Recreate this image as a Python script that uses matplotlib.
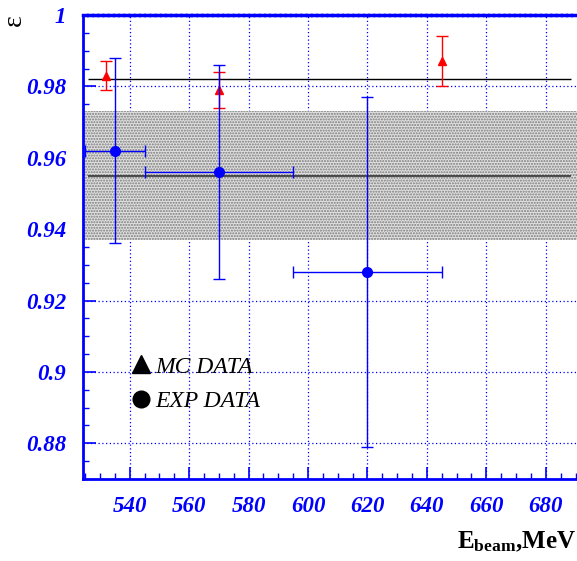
import numpy as np
import matplotlib
matplotlib.use("Agg")
import matplotlib.pyplot as plt
from matplotlib.lines import Line2D

plt.rcParams["mathtext.fontset"] = "custom"
plt.rcParams["mathtext.rm"] = "Liberation Serif:bold"
plt.rcParams["mathtext.bf"] = "Liberation Serif:bold"
plt.rcParams["mathtext.it"] = "Liberation Serif:italic"

# MC points (red triangles)
mc_x = np.array([532, 570, 645])
mc_y = np.array([0.983, 0.979, 0.987])
mc_err = np.array([0.004, 0.005, 0.007])

# experiment points (blue circles)
exp_x = np.array([535, 570, 620])
exp_xerr = np.array([10, 25, 25])
exp_y = np.array([0.962, 0.956, 0.928])
exp_yerr_lo = np.array([0.026, 0.030, 0.049])
exp_yerr_hi = np.array([0.026, 0.030, 0.049])

# averages
mc_mean = 0.982
exp_mean = 0.955
exp_band = (0.937, 0.973)
line_x = (526, 688.5)

xticks = [540, 560, 580, 600, 620, 640, 660, 680]
yticks = [0.88, 0.9, 0.92, 0.94, 0.96, 0.98, 1.0]
yticklabels = ["0.88", "0.9", "0.92", "0.94", "0.96", "0.98", "1"]

blue = "#0000ff"
serif = "Liberation Serif"

fig = plt.figure(figsize=(5.77, 5.61), dpi=100)
ax = fig.add_axes([83 / 577, 82 / 561, 494 / 577, 464 / 561])
ax.set_xlim(524.3, 690.5)
ax.set_ylim(0.87, 1.0)
ax.set_axisbelow(True)

ax.fill_between([524.3, 690.5], exp_band[0], exp_band[1], facecolor="#e0e0e0",
                edgecolor="#7a7a7a", hatch="......", linewidth=0, zorder=1)
ax.hlines([mc_mean], line_x[0], line_x[1], color="black", lw=1.0, zorder=2)
ax.hlines([exp_mean], line_x[0], line_x[1], color="#333333", lw=1.2, zorder=2)

ax.errorbar(mc_x, mc_y, yerr=mc_err, fmt="^", color="red", ms=6, capsize=4,
            elinewidth=1.0, capthick=1.0, zorder=3)
ax.errorbar(exp_x, exp_y, xerr=exp_xerr, yerr=[exp_yerr_lo, exp_yerr_hi], fmt="o",
            color=blue, ms=7, capsize=4, elinewidth=1.0, capthick=1.0, zorder=4)

ax.set_xticks(xticks)
ax.set_yticks(yticks)
ax.set_yticklabels(yticklabels)
ax.set_xticks(np.arange(525, 691, 5), minor=True)
ax.set_yticks(np.arange(0.87, 1.0001, 0.005), minor=True)
ax.grid(True, which="major", color=blue, linestyle=(0, (1, 2)), lw=0.9)

ax.tick_params(which="both", direction="in", color=blue, right=False, top=False)
ax.tick_params(which="major", length=9, width=1.2)
ax.tick_params(which="minor", length=4, width=1.0)
ax.tick_params(axis="y", pad=12)
ax.tick_params(axis="x", pad=12)
for lab in ax.get_xticklabels() + ax.get_yticklabels():
    lab.set_family(serif)
    lab.set_weight("bold")
    lab.set_style("italic")
    lab.set_fontsize(16.5)
    lab.set_color(blue)

for s in ["left", "bottom"]:
    ax.spines[s].set_color(blue)
    ax.spines[s].set_linewidth(2)
ax.spines["top"].set_color(blue)
ax.spines["top"].set_linewidth(2.5)
ax.spines["top"].set_linestyle((0, (1, 0.5)))
ax.spines["right"].set_visible(False)

fig.text(14 / 577, 1 - 20 / 561, "ε", rotation=90, fontsize=20, family=serif,
         ha="center", va="center")
fig.text(1 - 1 / 577, 1 - 542 / 561, r"$\mathbf{E_{beam}}$,MeV", fontsize=18,
         family=serif, weight="bold", ha="right", va="center")

handles = [Line2D([], [], marker="^", color="black", ls="none", ms=13),
           Line2D([], [], marker="o", color="black", ls="none", ms=12)]
ax.legend(handles, ["MC DATA", "EXP DATA"], loc="upper left",
          bbox_to_anchor=(0.093, 0.265), frameon=False, borderpad=0,
          borderaxespad=0, handlelength=1.0, handletextpad=0.1, labelspacing=0.55,
          prop={"family": serif, "style": "italic", "size": 17})

fig.savefig("out.png", dpi=100)
